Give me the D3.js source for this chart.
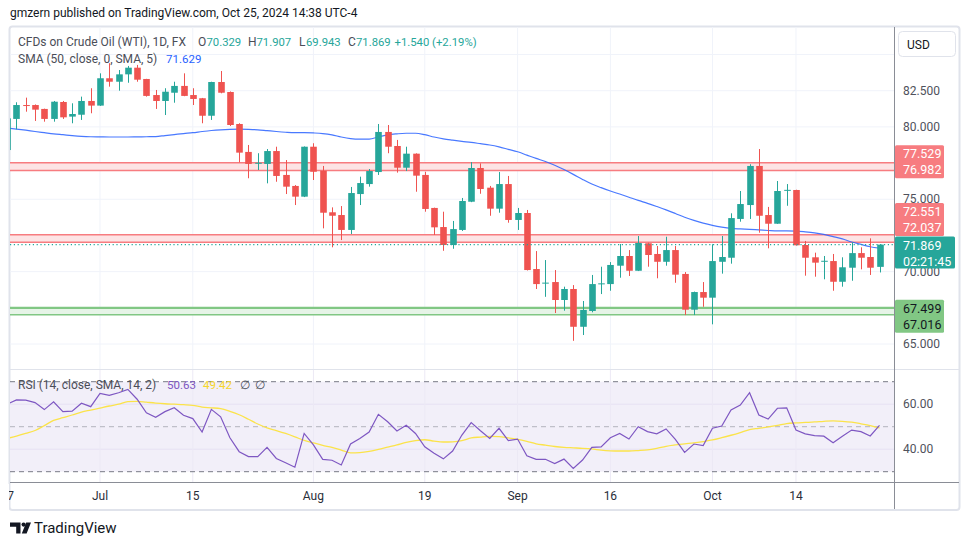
<!DOCTYPE html>
<html><head><meta charset="utf-8">
<script src="https://cdn.jsdelivr.net/npm/d3@7/dist/d3.min.js"></script>
<style>
html,body{margin:0;padding:0;background:#fff;}
svg{display:block;font-family:Roboto,"Noto Sans",sans-serif;}
</style></head>
<body><svg id="c" width="970" height="545"></svg>
<script>
// ---------- DATA ----------
const dates = ["06-17","06-18","06-19","06-20","06-21","06-24","06-25","06-26","06-27","06-28",
"07-01","07-02","07-03","07-04","07-05","07-08","07-09","07-10","07-11","07-12",
"07-15","07-16","07-17","07-18","07-19","07-22","07-23","07-24","07-25","07-26",
"07-29","07-30","07-31","08-01","08-02","08-05","08-06","08-07","08-08","08-09",
"08-12","08-13","08-14","08-15","08-16","08-19","08-20","08-21","08-22","08-23",
"08-26","08-27","08-28","08-29","08-30","09-02","09-03","09-04","09-05","09-06",
"09-09","09-10","09-11","09-12","09-13","09-16","09-17","09-18","09-19","09-20",
"09-23","09-24","09-25","09-26","09-27","09-30","10-01","10-02","10-03","10-04",
"10-07","10-08","10-09","10-10","10-11","10-14","10-15","10-16","10-17","10-18",
"10-21","10-22","10-23","10-24","10-25"];
const open  = [78.40,80.55,81.51,81.51,81.24,80.55,81.72,80.71,80.84,81.79,
81.47,83.36,83.12,83.63,84.09,83.31,82.20,81.79,82.36,82.83,
82.20,81.98,80.77,83.10,82.41,80.20,78.27,77.50,77.44,78.33,
76.68,75.92,75.18,78.63,76.97,74.10,73.91,72.88,75.36,76.05,
76.88,79.65,78.68,77.18,78.15,76.68,74.40,73.08,71.84,72.88,
74.83,77.16,75.80,74.35,76.05,73.57,74.05,70.18,69.20,69.28,
68.04,68.80,66.19,67.28,69.16,69.14,70.41,71.08,70.06,71.96,
71.22,70.68,71.49,69.84,67.37,68.59,68.20,70.68,70.96,73.64,
74.60,77.30,73.91,73.31,75.62,75.64,71.84,70.99,70.72,70.73,
69.30,70.27,71.28,71.01,70.329];
const high  = [80.65,81.70,82.02,81.55,81.26,81.79,81.79,81.63,82.09,82.67,
83.70,84.40,83.93,84.21,84.28,83.32,82.55,82.67,83.12,83.70,
82.67,82.00,83.12,83.86,82.45,80.25,78.75,78.18,78.47,78.63,
77.71,75.98,78.65,78.87,77.30,74.44,74.53,75.85,76.56,77.09,
80.20,80.13,79.10,78.63,78.17,76.90,74.42,74.14,73.50,75.09,
77.57,77.48,75.92,76.88,76.61,74.40,74.26,71.42,70.80,70.11,
68.96,69.07,67.97,69.77,70.34,70.66,71.91,71.49,72.46,72.00,
71.77,72.41,71.77,69.97,68.62,69.28,71.89,72.46,74.03,75.57,
77.42,78.47,74.47,76.26,76.05,75.66,72.12,71.31,71.08,71.22,
70.99,72.03,71.68,72.30,71.907];
const low   = [78.35,79.83,81.05,80.41,80.36,80.36,80.55,80.25,80.48,80.94,
81.45,82.78,82.50,83.05,83.12,82.09,81.24,80.82,81.67,82.12,
81.51,80.25,80.48,82.32,80.06,77.55,76.45,77.02,76.10,76.21,
75.36,74.60,75.15,76.33,72.99,71.68,72.18,72.60,74.60,75.87,
76.68,78.18,76.84,76.95,75.52,74.14,72.53,71.44,71.58,72.81,
74.80,75.38,73.86,74.07,73.38,72.88,70.08,68.80,68.26,67.14,
67.30,65.22,65.62,67.19,68.45,68.68,69.58,69.70,70.04,70.34,
69.54,70.41,69.23,67.00,67.00,67.57,66.36,69.86,70.55,73.45,
73.64,72.69,71.61,73.30,74.55,71.80,69.72,69.65,69.47,68.68,
68.96,69.37,70.16,69.77,69.943];
const close = [80.59,81.51,81.46,81.19,80.55,81.74,80.66,80.89,81.79,81.47,
83.36,83.12,83.63,84.09,83.26,82.14,81.79,82.43,82.83,82.14,
81.93,80.77,83.10,82.36,80.13,78.22,77.44,77.52,78.33,76.61,
75.87,75.18,78.63,76.90,74.07,73.86,72.88,75.43,76.12,76.95,
79.65,78.63,77.18,78.15,76.63,74.33,73.06,71.84,72.94,74.88,
77.16,75.71,74.35,76.05,73.57,74.05,70.11,69.14,69.24,68.04,
68.80,66.19,67.35,69.14,69.19,70.46,71.08,70.06,71.98,71.15,
70.68,71.49,69.79,67.37,68.59,68.20,70.73,71.01,73.70,74.67,
77.30,73.86,73.31,75.57,75.65,71.82,70.96,70.62,70.75,69.30,
70.30,71.28,70.96,70.27,71.869];
const sma50 = [79.92,79.85,79.77,79.68,79.60,79.52,79.46,79.40,79.35,79.32,
79.31,79.30,79.30,79.30,79.31,79.32,79.33,79.40,79.47,79.54,
79.60,79.68,79.75,79.80,79.83,79.84,79.83,79.80,79.74,79.68,
79.63,79.60,79.60,79.58,79.54,79.45,79.30,79.19,79.15,79.16,
79.30,79.45,79.52,79.56,79.56,79.46,79.30,79.17,79.08,79.00,
78.93,78.84,78.75,78.62,78.45,78.28,78.05,77.82,77.61,77.35,
77.05,76.72,76.37,76.05,75.80,75.57,75.36,75.14,74.92,74.72,
74.50,74.27,74.02,73.76,73.54,73.35,73.20,73.08,72.99,72.95,
72.92,72.88,72.84,72.81,72.81,72.80,72.75,72.68,72.57,72.42,
72.26,72.05,71.88,71.72,71.629];
const rsi = [60.0,61.9,61.8,60.7,57.6,61.1,56.7,56.9,60.4,58.9,
64.8,63.9,65.1,66.6,62.2,56.2,54.2,56.7,58.4,55.1,
53.6,47.6,57.7,54.4,45.1,38.9,36.7,36.7,40.8,35.9,
34.0,32.0,47.0,41.9,35.5,35.1,33.0,42.3,44.8,47.6,
55.5,52.2,48.1,50.6,47.0,41.1,38.2,35.7,39.2,46.3,
51.8,48.2,44.8,49.3,43.8,44.5,37.1,35.5,35.5,33.6,
35.6,31.5,35.2,40.8,41.0,45.1,47.0,44.5,50.0,47.8,
46.8,49.0,44.4,38.6,42.3,41.6,49.3,50.3,57.4,59.6,
65.1,55.2,53.4,58.2,58.4,48.5,46.8,46.0,45.8,42.9,
45.8,48.5,47.8,45.9,50.63];
const rsiSma = [44.8,45.8,47.0,48.3,50.5,52.8,54.0,55.2,56.5,57.4,
58.3,59.2,60.0,61.1,61.3,60.9,60.5,60.2,60.0,59.8,
59.5,58.7,58.4,58.0,56.8,55.3,53.3,51.2,49.5,48.3,
47.0,45.5,43.9,42.8,41.7,40.8,39.6,38.4,38.5,39.0,
39.9,40.9,41.9,43.0,43.8,44.2,43.6,43.2,43.3,43.8,
45.0,45.4,45.7,45.6,45.0,44.4,43.5,42.4,41.8,41.2,
40.8,40.6,40.4,40.1,39.6,39.3,39.2,39.2,39.4,39.7,
40.4,41.3,41.9,42.4,42.8,43.4,44.1,45.1,46.2,47.4,
48.7,49.3,49.9,50.6,51.4,51.7,51.9,52.1,52.4,52.6,
52.4,52.0,51.3,50.5,49.42];
const timeTicks = ["06-17","07-01","07-15","08-01","08-19","09-02","09-16","10-01","10-14"];
const timeTickLabels = ["17","Jul","15","Aug","19","Sep","16","Oct","14"];
const priceTicks = [65,70,75,80,82.5];
const priceGrid = [65,67.5,70,72.5,75,77.5,80,82.5,85];
const rsiTicks = [40,60];
const redZones = [[76.982,77.529],[72.037,72.551]];
const greenZones = [[67.016,67.499]];
const lastClose = 71.869, countdown = "02:21:45";
const legendTitle = "CFDs on Crude Oil (WTI), 1D, FX";
const changeText = "+1.540 (+2.19%)";

// ---------- LAYOUT ----------
const svg = d3.select("#c");
const L = 10, R = 894, mainTop = 27, mainBot = 369.5, rsiTop = 370, rsiBot = 482;
const x = d3.scalePoint().domain(dates).range([7.2, 879.5]);
const y = d3.scaleLinear().domain([65, 82.5]).range([344.0, 90.7]);
const yr = d3.scaleLinear().domain([30, 70]).range([471.7, 381.7]);
const UP = "#26a69a", DN = "#ef5350", TXT = "#4a4d57";
const bodyW = 6.6;

svg.append("defs").html(`
<clipPath id="mainClip"><rect x="${L}" y="${mainTop}" width="${R-L}" height="${mainBot-mainTop}"/></clipPath>
<clipPath id="rsiClip"><rect x="${L}" y="${rsiTop}" width="${R-L}" height="${rsiBot-rsiTop}"/></clipPath>`);

// header
svg.append("text").attr("x",10).attr("y",13).attr("dominant-baseline","central")
  .attr("font-size",12).attr("fill","#131722").text("gmzern published on TradingView.com, Oct 25, 2024 14:38 UTC-4");

// frame
svg.append("rect").attr("x",9.5).attr("y",26.5).attr("width",950).attr("height",483.5)
  .attr("rx",3).attr("fill","#fff").attr("stroke","#e0e3eb").attr("stroke-width",2);

// grid main
const gMain = svg.append("g").attr("clip-path","url(#mainClip)");
gMain.selectAll("line.hg").data(priceGrid).join("line").attr("class","hg")
  .attr("x1",L).attr("x2",R).attr("y1",d=>y(d)).attr("y2",d=>y(d)).attr("stroke","#f0f3fa");
gMain.selectAll("line.vg").data(timeTicks).join("line").attr("class","vg")
  .attr("x1",d=>x(d)).attr("x2",d=>x(d)).attr("y1",mainTop).attr("y2",mainBot).attr("stroke","#f0f3fa");

// zones
function zone(g, z, fill, stroke, wTop) {
  g.append("rect").attr("x",L).attr("width",R-L).attr("y",y(z[1])).attr("height",y(z[0])-y(z[1])).attr("fill",fill);
  g.append("line").attr("x1",L).attr("x2",R).attr("y1",y(z[1])).attr("y2",y(z[1])).attr("stroke",stroke).attr("stroke-width",wTop);
  g.append("line").attr("x1",L).attr("x2",R).attr("y1",y(z[0])).attr("y2",y(z[0])).attr("stroke",stroke).attr("stroke-width",1.5);
}
redZones.forEach(z=>zone(gMain,z,"#fde4e5","#f77c80",1.5));
greenZones.forEach(z=>zone(gMain,z,"#e6f4e7","#81c784",2.2));

// SMA 50
gMain.append("path").datum(sma50).attr("fill","none").attr("stroke","#2962ff").attr("stroke-opacity",0.85).attr("stroke-width",1.2)
  .attr("d", d3.line().x((d,i)=>x(dates[i])).y(d=>y(d)).curve(d3.curveMonotoneX));

// candles
const cd = dates.map((d,i)=>({d, o:open[i], h:high[i], l:low[i], c:close[i]}));
const cg = gMain.selectAll("g.cd").data(cd).join("g").attr("class","cd");
cg.append("line").attr("x1",d=>Math.round(x(d.d))+0.5).attr("x2",d=>Math.round(x(d.d))+0.5)
  .attr("y1",d=>y(d.h)).attr("y2",d=>y(d.l)).attr("stroke",d=>d.c>=d.o?UP:DN).attr("stroke-width",1);
cg.append("rect").attr("x",d=>Math.round(x(d.d))+0.5-bodyW/2).attr("width",bodyW)
  .attr("y",d=>y(Math.max(d.o,d.c))).attr("height",d=>Math.max(1,Math.abs(y(d.o)-y(d.c))))
  .attr("fill",d=>d.c>=d.o?UP:DN);

// last price dotted line
gMain.append("line").attr("x1",L).attr("x2",R).attr("y1",y(lastClose)).attr("y2",y(lastClose))
  .attr("stroke",UP).attr("stroke-width",1.2).attr("stroke-dasharray","1.2,2.6");

// ---------- RSI pane ----------
const gR = svg.append("g").attr("clip-path","url(#rsiClip)");
gR.append("rect").attr("x",L).attr("width",R-L).attr("y",yr(70)).attr("height",yr(30)-yr(70)).attr("fill","#f2eff9");
gR.selectAll("line.rg").data(rsiTicks).join("line").attr("class","rg")
  .attr("x1",L).attr("x2",R).attr("y1",d=>yr(d)).attr("y2",d=>yr(d)).attr("stroke","#e6e1f3");
gR.selectAll("line.vg").data(timeTicks).join("line").attr("class","vg")
  .attr("x1",d=>x(d)).attr("x2",d=>x(d)).attr("y1",rsiTop).attr("y2",rsiBot).attr("stroke","#ece9f5");
[70,30].forEach(v=>gR.append("line").attr("x1",L).attr("x2",R).attr("y1",yr(v)).attr("y2",yr(v))
  .attr("stroke","#787b86").attr("stroke-dasharray","5,4"));
gR.append("line").attr("x1",L).attr("x2",R).attr("y1",yr(50)).attr("y2",yr(50))
  .attr("stroke","#787b86").attr("stroke-opacity",0.5).attr("stroke-dasharray","5,4");
gR.append("path").datum(rsiSma).attr("fill","none").attr("stroke","#fbe34a").attr("stroke-width",1.3)
  .attr("d", d3.line().x((d,i)=>x(dates[i])).y(d=>yr(d)).curve(d3.curveMonotoneX));
gR.append("path").datum(rsi).attr("fill","none").attr("stroke","#7e57c2").attr("stroke-width",1.2)
  .attr("d", d3.line().x((d,i)=>x(dates[i])).y(d=>yr(d)));

// separators
svg.append("line").attr("x1",L).attr("x2",959).attr("y1",369.5).attr("y2",369.5).attr("stroke","#e0e3eb");
svg.append("line").attr("x1",L).attr("x2",959).attr("y1",482.5).attr("y2",482.5).attr("stroke","#8a8d96");
svg.append("line").attr("x1",894.5).attr("x2",894.5).attr("y1",27).attr("y2",509).attr("stroke","#8a8d96");

// time axis labels
svg.append("g").selectAll("text").data(timeTicks).join("text")
  .attr("x",d=>x(d)).attr("y",495.5).attr("text-anchor","middle").attr("dominant-baseline","central")
  .attr("font-size",12).attr("fill","#2a2e39").text((d,i)=>timeTickLabels[i]);
svg.append("rect").attr("x",0).attr("y",484).attr("width",9).attr("height",25).attr("fill","#fff");

// price axis labels
svg.append("g").selectAll("text").data(priceTicks).join("text")
  .attr("x",903).attr("y",d=>y(d)).attr("dominant-baseline","central")
  .attr("font-size",12).attr("fill","#4f525c").text(d=>d3.format(".3f")(d));
svg.append("g").selectAll("text").data(rsiTicks).join("text")
  .attr("x",903).attr("y",d=>yr(d)).attr("dominant-baseline","central")
  .attr("font-size",12).attr("fill","#4f525c").text(d=>d3.format(".2f")(d));

// USD box
svg.append("rect").attr("x",898.5).attr("y",31.5).attr("width",57).attr("height",25).attr("rx",4)
  .attr("fill","#fff").attr("stroke","#e0e3eb");
svg.append("text").attr("x",907).attr("y",44.5).attr("dominant-baseline","central").attr("font-size",12).attr("fill","#131722").text("USD");

// price badges
function badge(top, h, w, fill, lines, color) {
  svg.append("rect").attr("x",895).attr("y",top).attr("width",w).attr("height",h).attr("rx",1.5).attr("fill",fill);
  lines.forEach((t,k)=>svg.append("text").attr("x",903).attr("y",top+8.5+k*16.2).attr("dominant-baseline","central")
    .attr("font-size",12.5).attr("fill",color).text(t));
}
const fmt = d3.format(".3f");
badge(y(redZones[0][1])-17.5, 33, 49, "#f77c80", [fmt(redZones[0][1]), fmt(redZones[0][0])], "#fff");
badge(y(lastClose)-8-33.5, 33, 49, "#f77c80", [fmt(redZones[1][1]), fmt(redZones[1][0])], "#fff");
badge(y(lastClose)-8, 32, 60, UP, [fmt(lastClose), countdown], "#fff");
badge(y(greenZones[0][1])-8, 33, 49, "#81c784", [fmt(greenZones[0][1]), fmt(greenZones[0][0])], "#131722");

// ---------- legends ----------
const lg = svg.append("g").attr("font-size",12);
lg.append("text").attr("x",18).attr("y",42).attr("dominant-baseline","central").attr("fill",TXT).text(legendTitle);
const ohlc = [["O",open[94],198,206.5],["H",high[94],248,256.5],["L",low[94],299,306],["C",close[94],348,356]];
ohlc.forEach(a=>{
  lg.append("text").attr("x",a[2]).attr("y",42).attr("dominant-baseline","central").attr("fill",TXT).text(a[0]);
  lg.append("text").attr("x",a[3]).attr("y",42).attr("dominant-baseline","central").attr("fill",UP)
    .attr("font-size",11.3).text(d3.format(".3f")(a[1]));
});
lg.append("text").attr("x",394.5).attr("y",42).attr("dominant-baseline","central").attr("fill",UP)
  .attr("font-size",11.3).text(changeText);

lg.append("text").attr("x",18).attr("y",59).attr("dominant-baseline","central").attr("fill",TXT).text("SMA (50, close, 0, SMA, 5)");
lg.append("text").attr("x",166).attr("y",59).attr("dominant-baseline","central").attr("fill","#2962ff")
  .attr("font-size",11.5).text(d3.format(".3f")(sma50[94]));

lg.append("text").attr("x",18).attr("y",385).attr("dominant-baseline","central").attr("fill",TXT).text("RSI (14, close, SMA, 14, 2)");
lg.append("text").attr("x",167).attr("y",385).attr("dominant-baseline","central").attr("fill","#7e57c2")
  .attr("font-size",11.5).text(d3.format(".2f")(rsi[94]));
lg.append("text").attr("x",203).attr("y",385).attr("dominant-baseline","central").attr("fill","#f5d62a")
  .attr("font-size",11.5).text(d3.format(".2f")(rsiSma[94]));
lg.append("text").attr("x",240).attr("y",385).attr("dominant-baseline","central").attr("fill",TXT).text("∅");
lg.append("text").attr("x",255).attr("y",385).attr("dominant-baseline","central").attr("fill",TXT).text("∅");

// ---------- TradingView logo ----------
const lgG = svg.append("g").attr("fill","#131722");
lgG.append("path").attr("d","M10,522.5 H20.5 V533.5 H16.2 V526.8 H10 Z");
lgG.append("circle").attr("cx",23.6).attr("cy",524.6).attr("r",2.1);
lgG.append("path").attr("d","M26.2,522.5 H31 L26.6,533.5 H21.8 Z");
svg.append("text").attr("x",34).attr("y",528).attr("dominant-baseline","central").attr("font-size",15)
  .attr("fill","#131722").text("TradingView");
</script></body></html>
